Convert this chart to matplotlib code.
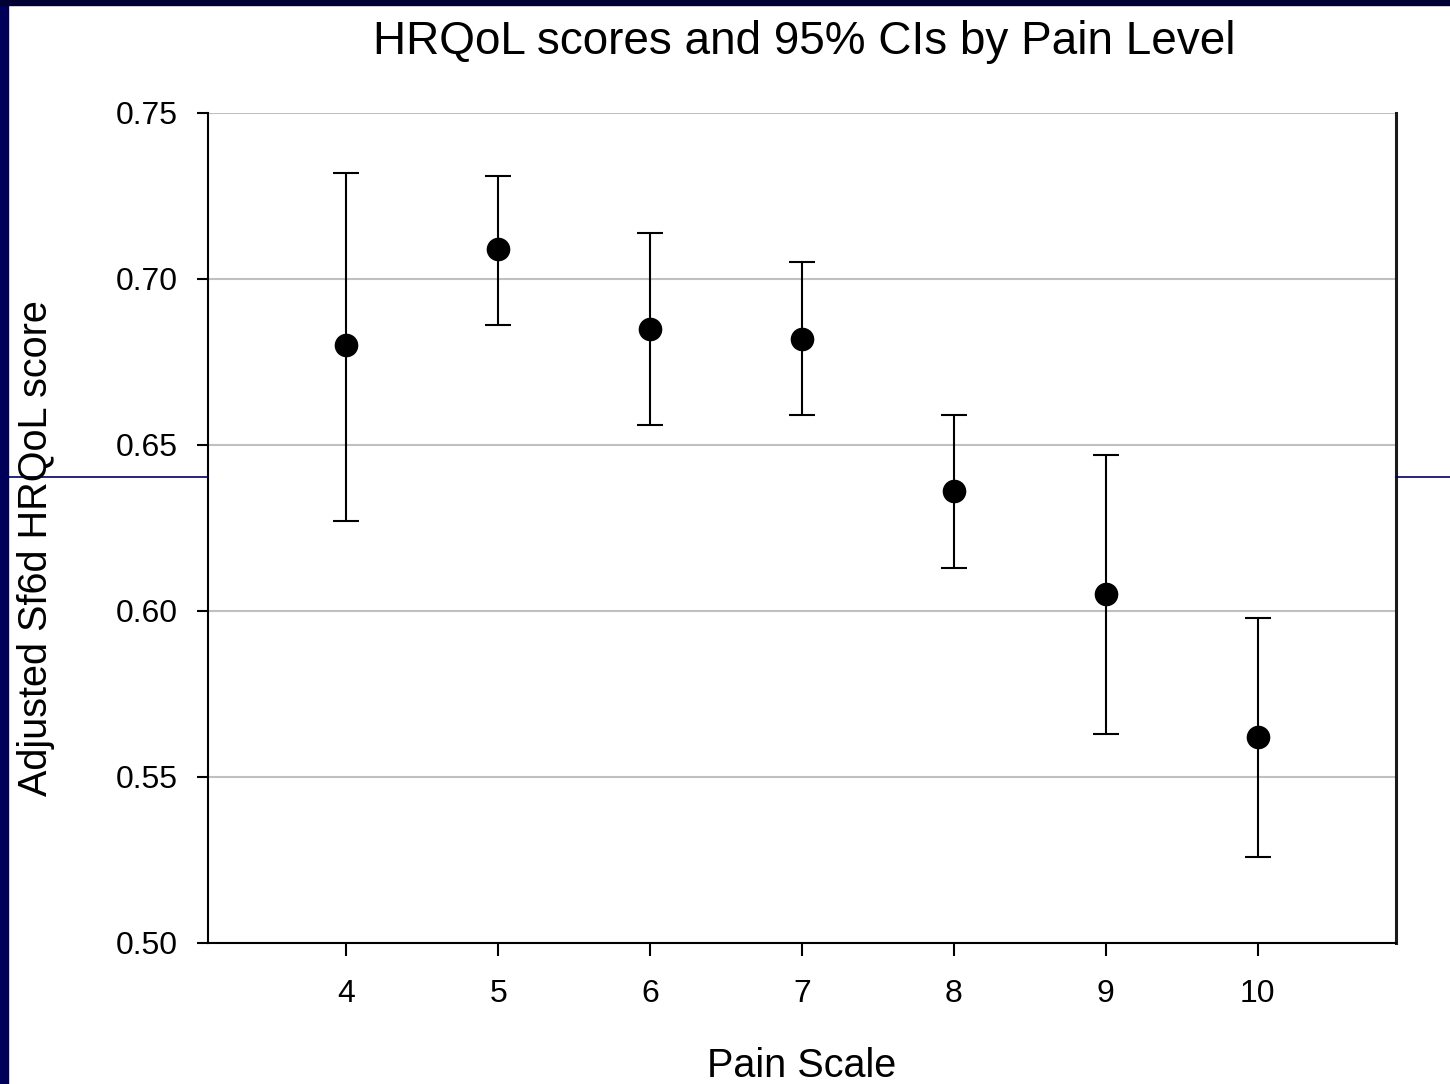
import matplotlib
matplotlib.use("Agg")
import matplotlib.pyplot as plt
from matplotlib.patches import Rectangle
from matplotlib.lines import Line2D

# values
pain = [4, 5, 6, 7, 8, 9, 10]
score = [0.680, 0.709, 0.685, 0.682, 0.636, 0.605, 0.562]
ci_low = [0.627, 0.686, 0.656, 0.659, 0.613, 0.563, 0.526]
ci_high = [0.732, 0.731, 0.714, 0.705, 0.659, 0.647, 0.598]
yticks = [0.50, 0.55, 0.60, 0.65, 0.70, 0.75]

plt.rcParams["font.family"] = ["Liberation Sans", "DejaVu Sans"]

W, H = 1450, 1084
fig = plt.figure(figsize=(W / 100, H / 100), dpi=100)
fig.patch.set_facecolor("white")

# slide frame remnants
fig.patches.append(Rectangle((0, 0), 8 / W, 1, transform=fig.transFigure,
                             color="#00005a", zorder=0))
fig.patches.append(Rectangle((0, 1 - 5 / H), 1, 5 / H, transform=fig.transFigure,
                             color="#000033", zorder=0))
yl = 1 - 477 / H
fig.lines.append(Line2D([8 / W, 208 / W], [yl, yl], transform=fig.transFigure,
                        color="#000066", lw=1.2, zorder=0))
fig.lines.append(Line2D([1396 / W, 1], [yl, yl], transform=fig.transFigure,
                        color="#000066", lw=1.2, zorder=0))

ax = fig.add_axes([208 / W, 1 - 943 / H, (1396 - 208) / W, (943 - 113) / H])

lower = [s - l for s, l in zip(score, ci_low)]
upper = [h - s for s, h in zip(score, ci_high)]
ax.errorbar(pain, score, yerr=[lower, upper], fmt="o", color="black",
            ms=16, elinewidth=1.5, capsize=9.5, capthick=1.5, zorder=3)

ax.set_xlim(3.09, 10.91)
ax.set_ylim(0.50, 0.75)
ax.set_xticks(pain)
ax.set_yticks(yticks)
ax.set_yticklabels([f"{v:.2f}" for v in yticks])
ax.yaxis.grid(True, color="#c0c0c0", lw=1.5)
ax.set_axisbelow(True)

ax.spines["top"].set_visible(False)
ax.spines["left"].set_linewidth(1.5)
ax.spines["bottom"].set_linewidth(1.5)
ax.spines["right"].set_linewidth(2.2)
ax.spines["right"].set_color("#1a1a1a")
ax.tick_params(axis="y", length=8, width=1.5, pad=14, labelsize=23)
ax.tick_params(axis="x", length=9, width=1.5, pad=17, labelsize=23)

ax.set_xlabel("Pain Scale", fontsize=28.5, labelpad=27)
fig.text(36 / W, 1 - 548 / H, "Adjusted Sf6d HRQoL score",
         rotation=90, fontsize=28.5, ha="center", va="center")
fig.text(804 / W, 1 - 42 / H, "HRQoL scores and 95% CIs by Pain Level",
         fontsize=33, ha="center", va="center")

fig.savefig("out.png", dpi=100)
